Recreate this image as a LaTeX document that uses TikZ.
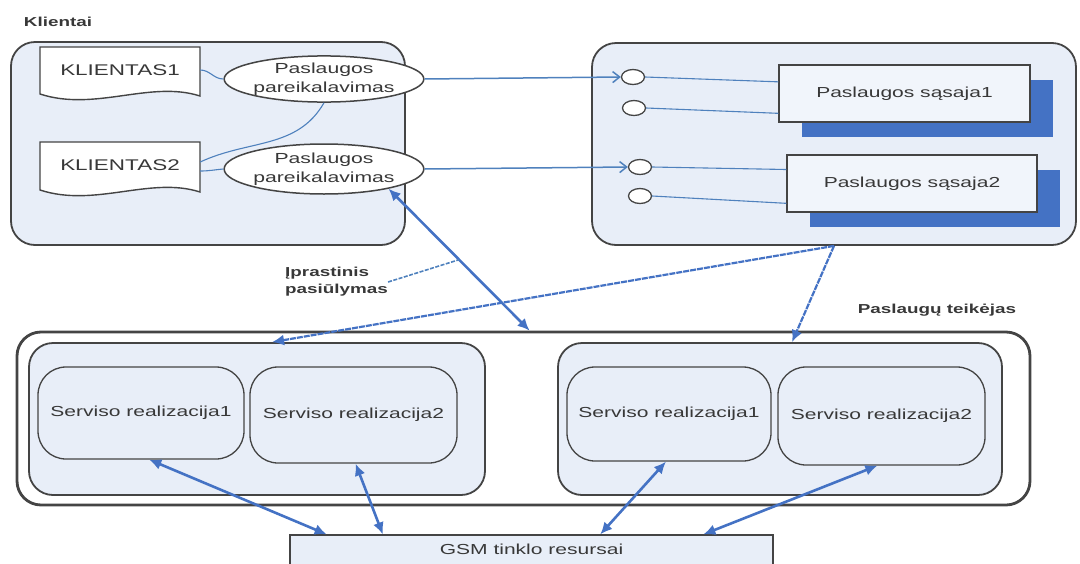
\documentclass[tikz,border=0pt]{standalone}
\usepackage{fontspec}
\setmainfont[FakeStretch=1.45]{Liberation Sans}
\usetikzlibrary{arrows.meta,calc,shapes.geometric,shadows}

\definecolor{panel}{RGB}{232,238,248}
\definecolor{edge}{RGB}{68,68,68}
\definecolor{wire}{RGB}{79,129,189}
\definecolor{flow}{RGB}{68,114,196}
\definecolor{shade}{RGB}{68,114,196}
\definecolor{ink}{RGB}{56,56,56}

\newcommand\bodyfont{\fontsize{14.5}{19}\selectfont}

\begin{document}
\begin{tikzpicture}[x=1pt,y=-1pt,
  grp/.style={draw=edge, fill=panel, line width=1.8pt, rounded corners=24pt, inner sep=0pt},
  frame/.style={draw=edge, fill=white, line width=2.8pt, rounded corners=24pt, inner sep=0pt},
  impl/.style={draw=edge, fill=panel, line width=1.3pt, rounded corners=28pt, font=\bodyfont, text=ink},
  iface/.style={draw=edge, fill=panel!60!white, line width=1.3pt, font=\bodyfont, text=ink,
    general shadow={fill=shade, shadow xshift=23pt, shadow yshift=-15pt}},
  docln/.style={draw=edge, fill=white, line width=1.4pt},
  doctext/.style={font=\fontsize{15.5}{19}\selectfont, text=ink, inner sep=0pt},
  req/.style={ellipse, draw=edge, fill=white, line width=1.5pt, align=center, inner sep=0pt,
    font=\fontsize{14.6}{19}\selectfont, text=ink},
  port/.style={ellipse, draw=edge, fill=white, line width=1.3pt, minimum width=23pt,
    minimum height=15pt, inner sep=0pt},
  res/.style={draw=edge, fill=panel, line width=1.3pt, font=\bodyfont, text=ink},
  note/.style={font=\fontsize{13}{17}\selectfont\bfseries, text=ink, inner sep=0pt},
  wireln/.style={draw=wire, line width=1.1pt},
  callln/.style={draw=wire, line width=1.5pt, -{Straight Barb[length=7pt,width=11pt]}},
  both/.style={draw=flow, line width=2.6pt, {Latex[length=12pt,width=11pt]}-{Latex[length=12pt,width=11pt]}},
  push/.style={draw=flow, line width=2.2pt, dash pattern=on 6pt off 1pt, -{Latex[length=12pt,width=11pt]}},
  pointer/.style={draw=wire, line width=1.6pt, dash pattern=on 4pt off 1.5pt}
]
\useasboundingbox (0,0) rectangle (1080,563);

% containers
\node[grp, minimum width=394, minimum height=203] (cli) at (208,143.5) {};
\node[grp, minimum width=484, minimum height=202] (srv) at (834,144) {};
\node[frame, minimum width=1013, minimum height=173] (outer) at (523.5,418.5) {};
\node[grp, minimum width=456, minimum height=152] (L) at (257,419) {};
\node[grp, minimum width=444, minimum height=152] (R) at (780,419) {};

% service implementations
\node[impl, minimum width=206, minimum height=92] (L1) at (141,413) {Serviso realizacija1};
\node[impl, minimum width=207, minimum height=96] (L2) at (353.5,415) {Serviso realizacija2};
\node[impl, minimum width=204, minimum height=94] (R1) at (669,414) {Serviso realizacija1};
\node[impl, minimum width=207, minimum height=98] (R2) at (881.5,416) {Serviso realizacija2};

% network resources (runs off the bottom edge)
\begin{scope}
  \clip (0,0) rectangle (1080,563);
  \node[res, minimum width=483, minimum height=44, text depth=15pt] (gsm) at (531.5,557) {GSM tinklo resursai};
\end{scope}

% client documents
\draw[docln] (40,47) -- (200,47) -- (200,96) .. controls (150,80) and (95,112) .. (40,94) -- cycle;
\draw[docln] (40,142) -- (200,142) -- (200,192) .. controls (150,176) and (95,208) .. (40,190) -- cycle;
\node[doctext, minimum width=160, minimum height=48] (k1) at (120,70) {KLIENTAS1};
\node[doctext, minimum width=160, minimum height=48] (k2) at (120,165) {KLIENTAS2};

% requests
\node[req, minimum width=164, minimum height=46] (e1) at (324,79) {Paslaugos\\pareikalavimas};
\node[req, minimum width=164, minimum height=50] (e2) at (324,169) {Paslaugos\\pareikalavimas};

% interfaces
\node[iface, minimum width=251, minimum height=57] (s1) at (904.5,93.5) {Paslaugos sąsaja1};
\node[iface, minimum width=250, minimum height=57] (s2) at (912,183.5) {Paslaugos sąsaja2};
\node[port] (p1) at (633,77) {};
\node[port] (p2) at (634,108) {};
\node[port] (p3) at (640,167) {};
\node[port] (p4) at (640,196) {};

% labels
\node[note] (tcli) at (58,22) {Klientai};
\node[note] (tsup) at (937,310) {Paslaugų teikėjas};
\node[note, anchor=west, align=left] (tmsg) at (285,282) {Įprastinis\\pasiūlymas};

% client side wiring
\draw[wireln] (k1.east) to[out=0,in=180] (e1.west);
\draw[wireln] ([yshift=3pt]k2.east) to[out=25,in=-120] (e1.south);
\draw[wireln] ([yshift=-6pt]k2.east) to[out=0,in=185] (e2.west);

% requests to interfaces
\draw[callln] (e1.east) -- (p1.west);
\draw[callln] (e2.east) -- (p3.west);
\draw[wireln] (p1.east) -- ($(s1.north west)!0.3!(s1.south west)$);
\draw[wireln] (p2.east) -- ($(s1.north west)!0.84!(s1.south west)$);
\draw[wireln] (p3.east) -- ($(s2.north west)!0.26!(s2.south west)$);
\draw[wireln] (p4.east) -- ($(s2.north west)!0.84!(s2.south west)$);

% request / offer exchange
\draw[both] (e2.-17) -- coordinate[pos=0.5] (mid) ($(outer.north west)!0.506!(outer.north east)$);
\draw[pointer] (tmsg.east) -- (mid);

% interfaces to providers
\draw[push] (srv.south) -- ($(L.north west)!0.533!(L.north east)$);
\draw[push] (srv.south) -- ($(R.north west)!0.527!(R.north east)$);

% implementations to network resources
\draw[both] ($(L1.south west)!0.54!(L1.south east)$) -- ($(gsm.north west)!0.077!(gsm.north east)$);
\draw[both] ($(L2.south west)!0.51!(L2.south east)$) -- ($(gsm.north west)!0.193!(gsm.north east)$);
\draw[both] ($(R1.south west)!0.485!(R1.south east)$) -- ($(gsm.north west)!0.642!(gsm.north east)$);
\draw[both] ($(R2.south west)!0.48!(R2.south east)$) -- ($(gsm.north west)!0.855!(gsm.north east)$);
\end{tikzpicture}
\end{document}
